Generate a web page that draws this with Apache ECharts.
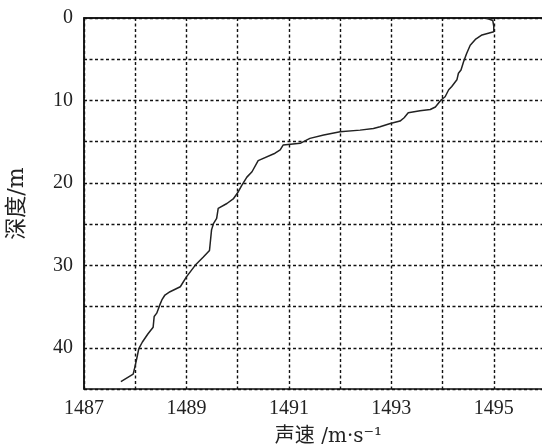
<!DOCTYPE html>
<html>
<head>
	<meta charset="utf-8">
	<title>声速剖面</title>
	<script type="text/javascript" src="https://cdn.jsdelivr.net/npm/echarts@6/dist/echarts.min.js"></script>
	<style type="text/css">
		body{margin:0;background:#fff;}
		#main{width:542px;height:448px;}
	</style>
</head>
<body>
<div id="main"></div>
<script type="text/javascript">
	// 声速 (m/s) 和 深度 (m)
	var speed = [1494.85,1494.98,1495.0,1495.0,1494.77,1494.64,1494.54,1494.47,1494.41,1494.36,1494.31,1494.28,1494.18,1494.12,1494.05,1493.97,1493.86,1493.76,1493.56,1493.33,1493.25,1493.17,1492.98,1492.78,1492.65,1492.39,1492.0,1491.68,1491.41,1491.22,1490.89,1490.83,1490.73,1490.4,1490.28,1490.18,1490.08,1490.01,1489.92,1489.79,1489.62,1489.59,1489.53,1489.49,1489.45,1489.33,1489.17,1489.0,1488.88,1488.68,1488.58,1488.52,1488.48,1488.42,1488.37,1488.35,1488.25,1488.14,1488.07,1488.03,1487.98,1487.96,1487.72];
	var depth = [0,0.3,1.0,1.66,2.06,2.6,3.3,4.3,5.3,6.3,6.7,7.5,8.3,8.7,9.55,9.95,10.8,11.1,11.25,11.5,12.1,12.5,12.8,13.2,13.4,13.6,13.8,14.2,14.6,15.2,15.4,16.0,16.4,17.3,18.65,19.3,20.3,21.1,21.9,22.5,23.1,24.3,24.9,25.7,28.2,29.0,30.0,31.4,32.6,33.2,33.6,34.2,34.8,35.8,36.2,37.5,38.3,39.3,40.1,41.3,42.7,43.2,44.1];
	var xLabels = [1487,1489,1491,1493,1495];
	var yLabels = [0,10,20,30,40];

	var list = [];
	for(var i=0;i<speed.length;i++){
		list.push([speed[i],depth[i]]);
	}

	var font = "'Liberation Serif','Noto Sans CJK SC',serif";
	var nameFont = "'DejaVu Serif','Noto Sans CJK SC',serif";
	var grid = {type:[3,2.5],color:'#111',width:1.4};

	var myChart = echarts.init(document.getElementById("main"));
	var option = {
		animation:false,
		grid:{
			left:84,
			top:18,
			width:461,
			height:371,
			outerBoundsMode:'none',
			show:true,
			borderColor:'#111',
			borderWidth:1.5
		},
		xAxis:{
			type:'value',
			min:1487,
			max:1496,
			interval:1,
			name:'声速 /m·s⁻¹',
			nameLocation:'middle',
			nameGap:38,
			nameTextStyle:{color:'#222',fontFamily:nameFont,fontSize:20,padding:[0,0,0,28]},
			axisLine:{lineStyle:{color:'#111',width:1.5}},
			axisTick:{show:false},
			splitLine:{lineStyle:grid},
			axisLabel:{
				color:'#222',
				fontFamily:font,
				fontSize:20,
				margin:10,
				formatter:function(v){return xLabels.indexOf(v)>=0 ? String(v) : '';}
			}
		},
		yAxis:{
			type:'value',
			inverse:true,
			min:0,
			max:45,
			interval:5,
			name:'深度/m',
			nameLocation:'middle',
			nameGap:56,
			nameTextStyle:{color:'#222',fontFamily:nameFont,fontSize:22},
			axisLine:{lineStyle:{color:'#111',width:1.5}},
			axisTick:{show:false},
			splitLine:{lineStyle:grid},
			axisLabel:{
				color:'#222',
				fontFamily:font,
				fontSize:20,
				margin:11,
				formatter:function(v){return yLabels.indexOf(v)>=0 ? String(v) : '';}
			}
		},
		series:[{
			type:'line',
			data:list,
			showSymbol:false,
			lineStyle:{color:'#222',width:1.5}
		}]
	};
	myChart.setOption(option);
</script>
</body>
</html>
